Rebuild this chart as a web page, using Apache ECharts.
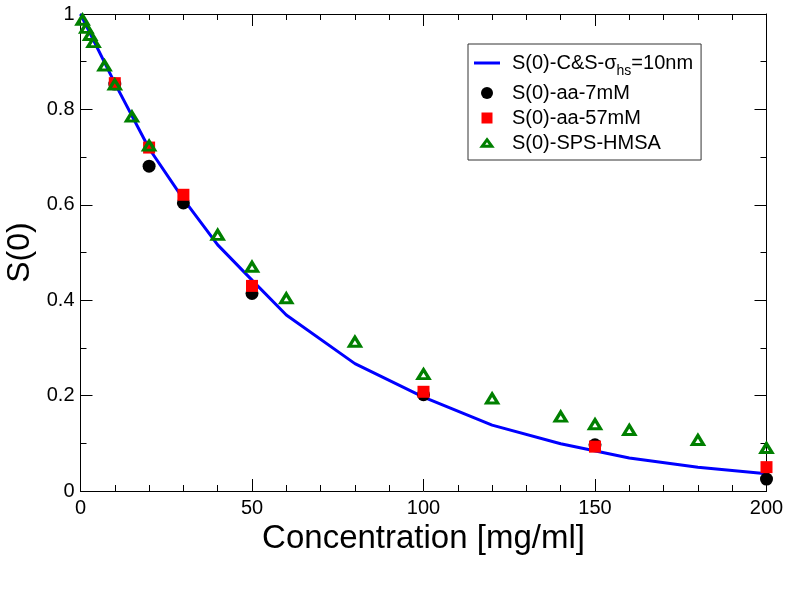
<!DOCTYPE html>
<html>
<head>
<meta charset="utf-8">
<script src="https://cdn.jsdelivr.net/npm/echarts@6/dist/echarts.min.js"></script>
<style>
  html, body { margin: 0; padding: 0; background: #fff; }
  #chart { width: 791px; height: 604px; }
</style>
</head>
<body>
<div id="chart"></div>
<script>
// ---- data ----
const seriesNames = ['S(0)-C&S-σhs=10nm', 'S(0)-aa-7mM', 'S(0)-aa-57mM', 'S(0)-SPS-HMSA'];

const concCS = [0, 10, 20, 30, 40, 50, 60, 80, 100, 120, 140, 160, 180, 200];
const sCS    = [1.0, 0.855, 0.718, 0.612, 0.516, 0.442, 0.369, 0.267, 0.197, 0.138, 0.099, 0.069, 0.050, 0.036];

const conc7 = [10, 20, 30, 50, 100, 150, 200];
const s7    = [0.853, 0.681, 0.604, 0.414, 0.202, 0.097, 0.025];

const conc57 = [10, 20, 30, 50, 100, 150, 200];
const s57    = [0.855, 0.720, 0.621, 0.430, 0.208, 0.093, 0.050];

const concHMSA = [0.6, 1.7, 2.8, 3.8, 7, 10, 15, 20, 40, 50, 60, 80, 100, 120, 140, 150, 160, 180, 200];
const sHMSA    = [0.988, 0.971, 0.956, 0.941, 0.892, 0.852, 0.785, 0.724, 0.537, 0.470, 0.404, 0.313, 0.245, 0.194, 0.156, 0.140, 0.128, 0.107, 0.090];

const xTicks = { min: 0, max: 200, interval: 50 };
const yTicks = { min: 0, max: 1, interval: 0.2 };

const pairs = (xs, ys) => xs.map((x, i) => [x, ys[i]]);

const FONT = 'Liberation Sans';
const chart = echarts.init(document.getElementById('chart'), null, { renderer: 'canvas' });

const baseAxis = {
  type: 'value',
  axisLine: { show: true, onZero: false, lineStyle: { color: '#000', width: 1 } },
  axisTick: { show: true, inside: true, length: 12, lineStyle: { color: '#000', width: 1 } },
  minorTick: { show: true, length: 6, lineStyle: { color: '#000', width: 1 } },
  splitLine: { show: false },
  minorSplitLine: { show: false }
};

const option = {
  backgroundColor: '#fff',
  animation: false,
  grid: { left: 80.5, right: 24.5, top: 14, bottom: 113, containLabel: false, outerBoundsMode: 'none' },
  xAxis: [
    Object.assign({}, baseAxis, {
      position: 'bottom',
      min: xTicks.min, max: xTicks.max, interval: xTicks.interval,
      minorTick: Object.assign({}, baseAxis.minorTick, { splitNumber: 5 }),
      axisLabel: { show: true, color: '#000', fontSize: 20, fontFamily: FONT, margin: 7 },
      name: 'Concentration [mg/ml]',
      nameLocation: 'middle',
      nameGap: 26,
      nameTextStyle: { color: '#000', fontSize: 33, fontFamily: FONT }
    }),
    Object.assign({}, baseAxis, {
      position: 'top',
      min: xTicks.min, max: xTicks.max, interval: xTicks.interval,
      minorTick: Object.assign({}, baseAxis.minorTick, { splitNumber: 5 }),
      axisLabel: { show: false }
    })
  ],
  yAxis: [
    Object.assign({}, baseAxis, {
      position: 'left',
      min: yTicks.min, max: yTicks.max, interval: yTicks.interval,
      minorTick: Object.assign({}, baseAxis.minorTick, { splitNumber: 2 }),
      axisLabel: { show: true, color: '#000', fontSize: 20, fontFamily: FONT, margin: 6,
        formatter: v => (v === 0 || v === 1) ? String(v) : v.toFixed(1) },
      name: 'S(0)',
      nameLocation: 'middle',
      nameGap: 43,
      nameTextStyle: { color: '#000', fontSize: 32, fontFamily: FONT }
    }),
    Object.assign({}, baseAxis, {
      position: 'right',
      min: yTicks.min, max: yTicks.max, interval: yTicks.interval,
      minorTick: Object.assign({}, baseAxis.minorTick, { splitNumber: 2 }),
      axisLabel: { show: false }
    })
  ],
  legend: {
    show: true,
    orient: 'vertical',
    left: 468,
    top: 44,
    padding: [4, 8, 7, 6],
    itemGap: 5,
    itemWidth: 26,
    itemHeight: 12,
    borderColor: '#333',
    borderWidth: 1,
    backgroundColor: '#fff',
    symbolKeepAspect: true,
    data: [
      { name: seriesNames[0], icon: 'path://M0,0L26,0L26,3L0,3Z' },
      { name: seriesNames[1], icon: 'circle' },
      { name: seriesNames[2], icon: 'path://M0,0M12,12M0.5,0.5L11.5,0.5L11.5,11.5L0.5,11.5Z' },
      { name: seriesNames[3], icon: 'path://M0,0M16,16M8,3.6L14.4,12.4L1.6,12.4Z',
        itemStyle: { color: 'rgba(0,0,0,0)', borderColor: '#008000', borderWidth: 3 } }
    ],
    formatter: function (name) {
      if (name === seriesNames[0]) return '{a|S(0)-C&S-σ}{sub|hs}{a|=10nm}';
      return '{a|' + name + '}';
    },
    textStyle: {
      color: '#000',
      fontFamily: FONT,
      fontSize: 20,
      padding: [0, 0, 0, 7],
      rich: {
        a: { color: '#000', fontFamily: FONT, fontSize: 20, lineHeight: 18 },
        sub: { color: '#000', fontFamily: FONT, fontSize: 14, lineHeight: 14, padding: [16, 0, 0, 0] }
      }
    }
  },
  series: [
    {
      name: seriesNames[0],
      type: 'line',
      data: pairs(concCS, sCS),
      symbol: 'none',
      showSymbol: false,
      smooth: false,
      lineStyle: { color: '#0000ff', width: 3 },
      itemStyle: { color: '#0000ff' },
      z: 2
    },
    {
      name: seriesNames[1],
      type: 'scatter',
      data: pairs(conc7, s7),
      symbol: 'circle',
      symbolSize: 13,
      itemStyle: { color: '#000', opacity: 1 },
      z: 3
    },
    {
      name: seriesNames[2],
      type: 'scatter',
      data: pairs(conc57, s57),
      symbol: 'rect',
      symbolSize: 12,
      itemStyle: { color: '#ff0000', opacity: 1 },
      z: 4
    },
    {
      name: seriesNames[3],
      type: 'scatter',
      data: pairs(concHMSA, sHMSA),
      symbol: 'triangle',
      symbolSize: [11, 9],
      itemStyle: { color: 'rgba(0,0,0,0)', borderColor: '#008000', borderWidth: 3.2, opacity: 1 },
      z: 5
    }
  ]
};

chart.setOption(option);
</script>
</body>
</html>
